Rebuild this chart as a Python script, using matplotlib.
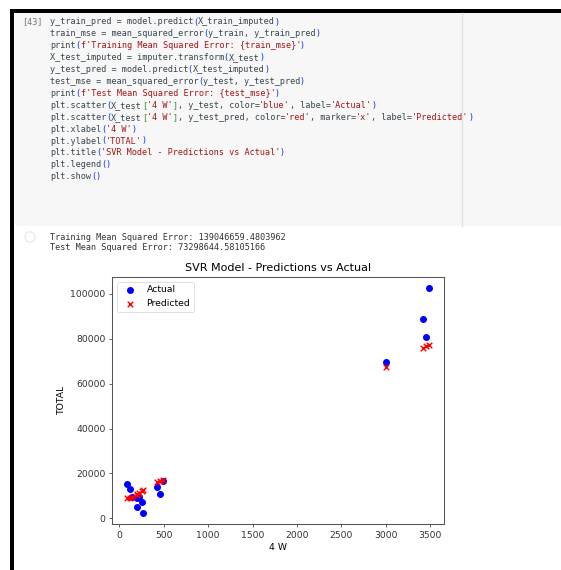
import numpy as np
import matplotlib
matplotlib.use("Agg")
import matplotlib.pyplot as plt
from matplotlib.patches import Rectangle, Circle

# ── Notebook cell contents ────────────────────────────────────────────────────
CELL_NO = "[43]"
CODE_LINES = [
    "y_train_pred = model.predict(X_train_imputed)",
    "train_mse = mean_squared_error(y_train, y_train_pred)",
    "print(f'Training Mean Squared Error: {train_mse}')",
    "X_test_imputed = imputer.transform(X_test)",
    "y_test_pred = model.predict(X_test_imputed)",
    "test_mse = mean_squared_error(y_test, y_test_pred)",
    "print(f'Test Mean Squared Error: {test_mse}')",
    "plt.scatter(X_test['4 W'], y_test, color='blue', label='Actual')",
    "plt.scatter(X_test['4 W'], y_test_pred, color='red', marker='x', label='Predicted')",
    "plt.xlabel('4 W')",
    "plt.ylabel('TOTAL')",
    "plt.title('SVR Model - Predictions vs Actual')",
    "plt.legend()",
    "plt.show()",
]
OUTPUT_LINES = [
    "Training Mean Squared Error: 139046659.4803962",
    "Test Mean Squared Error: 73298644.58105166",
]

# ── Test set: 4 W vs TOTAL, actual and SVR prediction ─────────────────────────
x_4w = [87, 115, 140, 195, 200, 225, 250, 262, 425, 462, 492,
        3007, 3420, 3457, 3487]
y_actual = [15200, 13300, 9500, 9000, 5000, 9500, 7300, 2500, 14000, 11000, 16600,
            69800, 88800, 80800, 102500]
y_pred = [9100, 9300, 9700, 10600, 10800, 11300, 12000, 12500, 16200, 16700, 17200,
          67600, 75900, 76800, 77400]

W, H = 561, 570
fig = plt.figure(figsize=(W / 100, H / 100), dpi=100)
fig.patch.set_facecolor("white")


def fx(px):
    return px / W


def fy(py):
    return 1 - py / H


# page frame and cell background
fig.patches.append(Rectangle((fx(15), fy(226)), fx(W) - fx(15), fy(13) - fy(226),
                             transform=fig.transFigure, facecolor="#f7f7f7",
                             edgecolor="none", zorder=0))
fig.patches.append(Rectangle((fx(10), fy(13)), 1, fy(9) - fy(13),
                             transform=fig.transFigure, facecolor="black",
                             edgecolor="none", zorder=1))
fig.patches.append(Rectangle((fx(10), 0), fx(14) - fx(10), fy(9),
                             transform=fig.transFigure, facecolor="black",
                             edgecolor="none", zorder=1))
fig.add_artist(plt.Line2D([fx(462), fx(462)], [fy(13), fy(226)],
                          transform=fig.transFigure, color="#e3e3e3", lw=1))
fig.patches.append(Circle((fx(30), fy(237)), 0.009, transform=fig.transFigure,
                          facecolor="none", edgecolor="#e6e6e6", lw=0.8))

# ── Code with simple syntax colouring ─────────────────────────────────────────
CW = 5.1          # px per monospace character
MONO = dict(family="DejaVu Sans Mono", size=6.1, va="center", ha="left")
TXT, STR, BR1, BR2 = "#37474f", "#a31515", "#0431fa", "#319331"


def tokens(line):
    out, i, depth = [], 0, 0
    while i < len(line):
        ch = line[i]
        if ch == "'" or (ch == "f" and i + 1 < len(line) and line[i + 1] == "'"
                         and (i == 0 or not line[i - 1].isalnum())):
            j = line.index("'", i + (2 if ch == "f" else 1)) + 1
            out.append((i, line[i:j], STR))
            i = j
            continue
        if ch in "([":
            out.append((i, ch, BR1 if depth % 2 == 0 else BR2))
            depth += 1
        elif ch in ")]":
            depth -= 1
            out.append((i, ch, BR1 if depth % 2 == 0 else BR2))
        else:
            out.append((i, ch, TXT))
        i += 1
    # merge runs of the same colour
    merged = []
    for pos, s, c in out:
        if merged and merged[-1][2] == c and merged[-1][0] + len(merged[-1][1]) == pos:
            merged[-1] = (merged[-1][0], merged[-1][1] + s, c)
        else:
            merged.append((pos, s, c))
    return merged


x0, y0, dy = 50, 22, 11.9
fig.text(fx(22), fy(y0), CELL_NO, color="#777777", **MONO)
for k, line in enumerate(CODE_LINES):
    for pos, s, c in tokens(line):
        fig.text(fx(x0 + pos * CW), fy(y0 + k * dy), s, color=c, **MONO)

for k, line in enumerate(OUTPUT_LINES):
    fig.text(fx(x0), fy(237 + k * 11), line, color="#333333", **MONO)

# ── Scatter plot ──────────────────────────────────────────────────────────────
S = 0.67  # plot drawn at reduced scale
ax = fig.add_axes([fx(112), fy(524), fx(444) - fx(112), fy(277) - fy(524)])
ax.scatter(x_4w, y_actual, color="blue", label="Actual", s=36 * S * S)
ax.scatter(x_4w, y_pred, color="red", marker="x", label="Predicted",
           s=36 * S * S, linewidths=1.5 * S)
ax.set_xlabel("4 W", fontsize=10 * S, labelpad=4 * S)
ax.set_ylabel("TOTAL", fontsize=10 * S, labelpad=4 * S)
ax.set_title("SVR Model - Predictions vs Actual", fontsize=12 * S, pad=6 * S)
ax.tick_params(labelsize=10 * S, length=3.5 * S, width=0.8 * S, pad=3.5 * S,
               colors="#333333")
for sp in ax.spines.values():
    sp.set_linewidth(0.8 * S * 1.4)
    sp.set_color("#555555")
leg = ax.legend(fontsize=10 * S, loc="upper left", borderaxespad=0.5,
                handletextpad=0.8)
leg.get_frame().set_linewidth(0.8 * S)

fig.savefig("out.png", dpi=100)
